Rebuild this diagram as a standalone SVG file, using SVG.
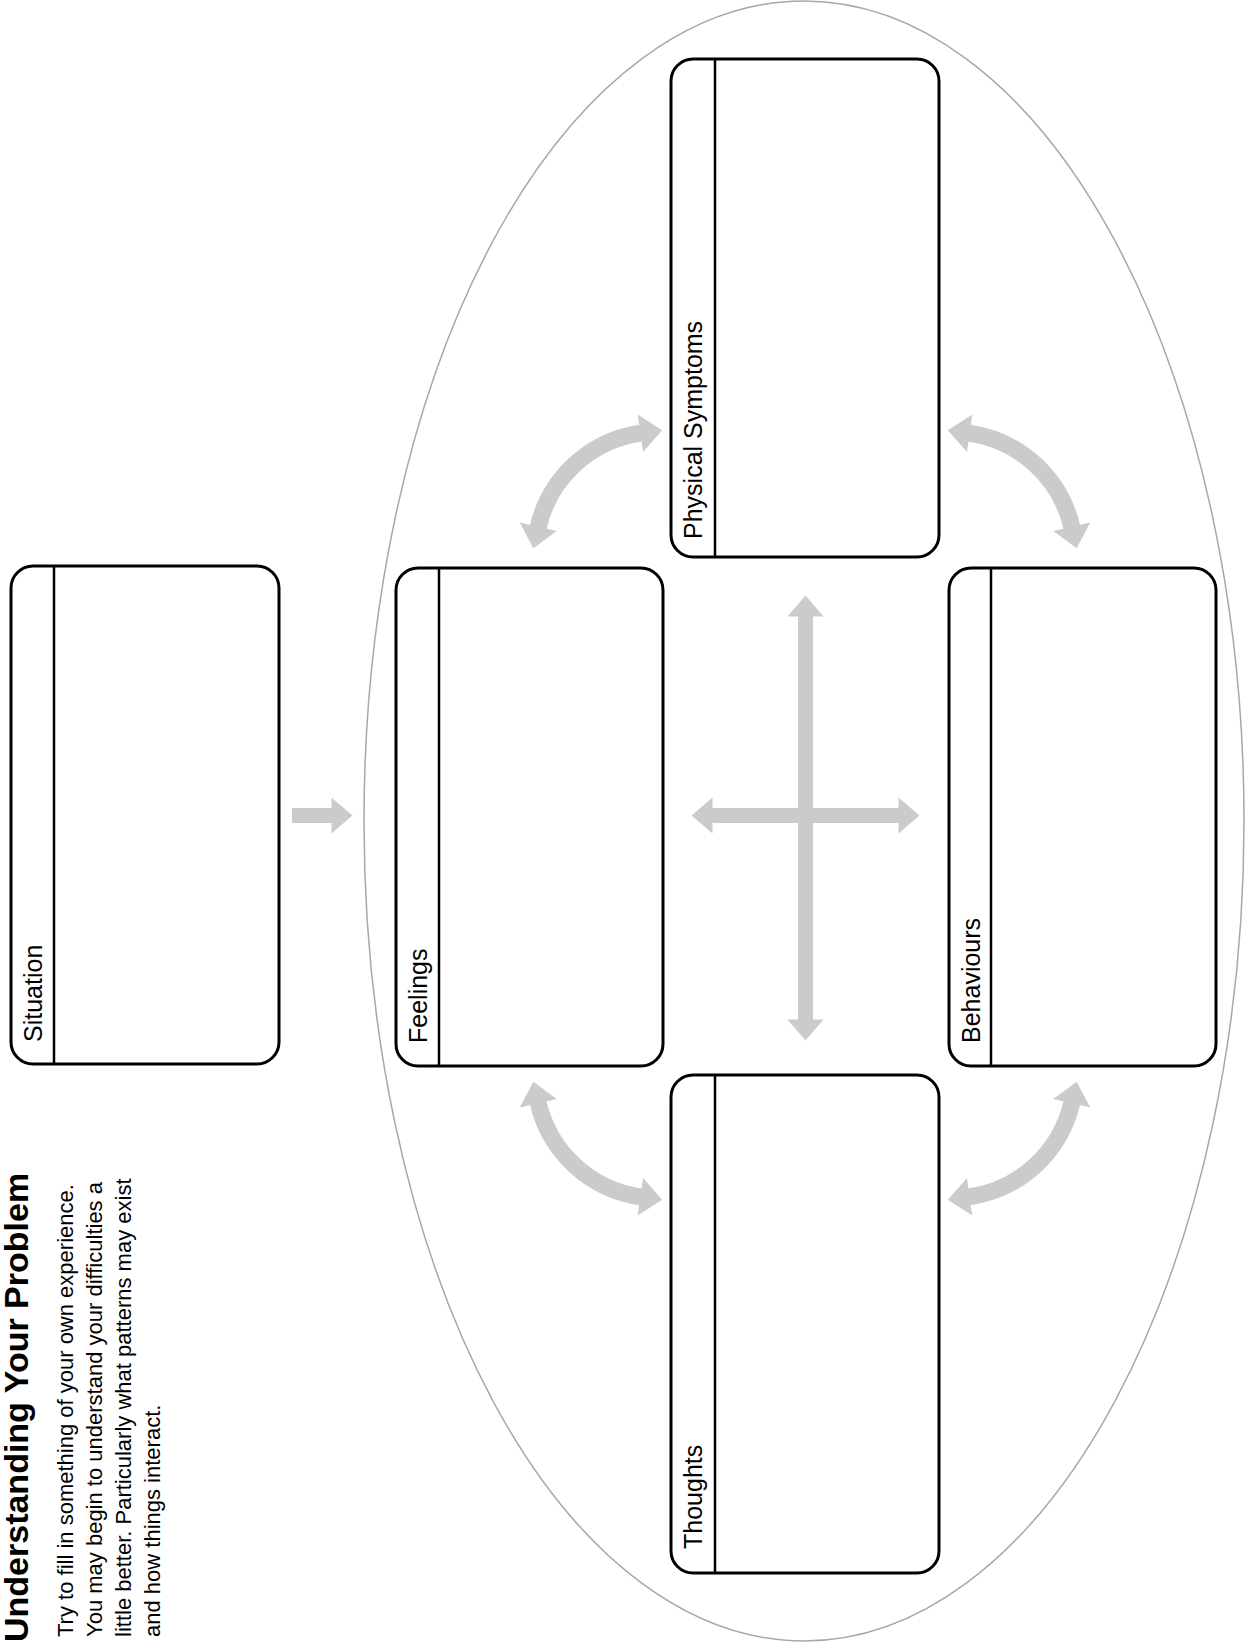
<svg xmlns="http://www.w3.org/2000/svg" width="1255" height="1650" viewBox="0 0 1255 1650">
<defs>
<style>
.box{fill:#fff;stroke:#000;stroke-width:3}
.div{stroke:#000;stroke-width:2.5}
.lbl{font-family:"Liberation Sans",Arial,sans-serif;font-size:25px;fill:#000}
.title{font-family:"Liberation Sans",Arial,sans-serif;font-size:34px;font-weight:bold;fill:#000}
.body{font-family:"Liberation Sans",Arial,sans-serif;font-size:22px;fill:#000}
.shaft{fill:none;stroke:#cbcbcb;stroke-width:15}
.cshaft{fill:none;stroke:#cbcbcb;stroke-width:17}
</style>
<marker id="ah" markerUnits="userSpaceOnUse" viewBox="0 0 21 36" markerWidth="21" markerHeight="36" refX="0.5" refY="18" orient="auto-start-reverse" overflow="visible">
<path d="M0,0 L21,18 L0,36 z" fill="#cbcbcb"/>
</marker>
<marker id="ahc" markerUnits="userSpaceOnUse" viewBox="0 0 22 38" markerWidth="22" markerHeight="38" refX="0.5" refY="19" orient="auto-start-reverse" overflow="visible">
<path d="M0,0 L22,19 L0,38 z" fill="#cbcbcb"/>
</marker>
</defs>
<rect width="1255" height="1650" fill="#fff"/>
<ellipse cx="804" cy="821" rx="440" ry="820" fill="none" stroke="#a8a8a8" stroke-width="1.5"/>

<g id="intro">
<g transform="rotate(-90)">
<text class="title" x="-1642" y="28">Understanding Your Problem</text>
<text class="body" x="-1637" y="73">Try to fill in something of your own experience.</text>
<text class="body" x="-1637" y="102">You may begin to understand your difficulties a</text>
<text class="body" x="-1637" y="131">little better. Particularly what patterns may exist</text>
<text class="body" x="-1637" y="160">and how things interact.</text>
</g>
</g>

<g id="connectors">
<line class="shaft" x1="292" y1="815.5" x2="332" y2="815.5" marker-end="url(#ah)"/>
<line class="shaft" x1="805.5" y1="616" x2="805.5" y2="1020" marker-start="url(#ah)" marker-end="url(#ah)"/>
<line class="shaft" x1="712" y1="815.5" x2="899" y2="815.5" marker-start="url(#ah)" marker-end="url(#ah)"/>
<path class="cshaft" d="M538.15,527.33 A123,123 0 0 1 640.88,433.2" marker-start="url(#ahc)" marker-end="url(#ahc)"/>
<path class="cshaft" d="M969.12,433.2 A123,123 0 0 1 1071.85,527.33" marker-start="url(#ahc)" marker-end="url(#ahc)"/>
<path class="cshaft" d="M640.88,1196.8 A123,123 0 0 1 538.15,1102.67" marker-start="url(#ahc)" marker-end="url(#ahc)"/>
<path class="cshaft" d="M1071.85,1102.67 A123,123 0 0 1 969.12,1196.8" marker-start="url(#ahc)" marker-end="url(#ahc)"/>
</g>

<g id="situation">
<rect class="box" x="11" y="566" width="268" height="498" rx="22"/>
<line class="div" x1="54" y1="566" x2="54" y2="1064"/>
<text class="lbl" x="42" y="1042" transform="rotate(-90 42 1042)">Situation</text>
</g>

<g id="feelings">
<rect class="box" x="396" y="568" width="267" height="498" rx="22"/>
<line class="div" x1="439" y1="568" x2="439" y2="1066"/>
<text class="lbl" x="427" y="1043" transform="rotate(-90 427 1043)">Feelings</text>
</g>

<g id="physical">
<rect class="box" x="671" y="59" width="268" height="498" rx="22"/>
<line class="div" x1="715" y1="59" x2="715" y2="557"/>
<text class="lbl" x="702" y="539" transform="rotate(-90 702 539)">Physical Symptoms</text>
</g>

<g id="behaviours">
<rect class="box" x="949" y="568" width="267" height="498" rx="22"/>
<line class="div" x1="991" y1="568" x2="991" y2="1066"/>
<text class="lbl" x="980" y="1043" transform="rotate(-90 980 1043)">Behaviours</text>
</g>

<g id="thoughts">
<rect class="box" x="671" y="1075" width="268" height="498" rx="22"/>
<line class="div" x1="715" y1="1075" x2="715" y2="1573"/>
<text class="lbl" x="702" y="1549" transform="rotate(-90 702 1549)">Thoughts</text>
</g>
</svg>
